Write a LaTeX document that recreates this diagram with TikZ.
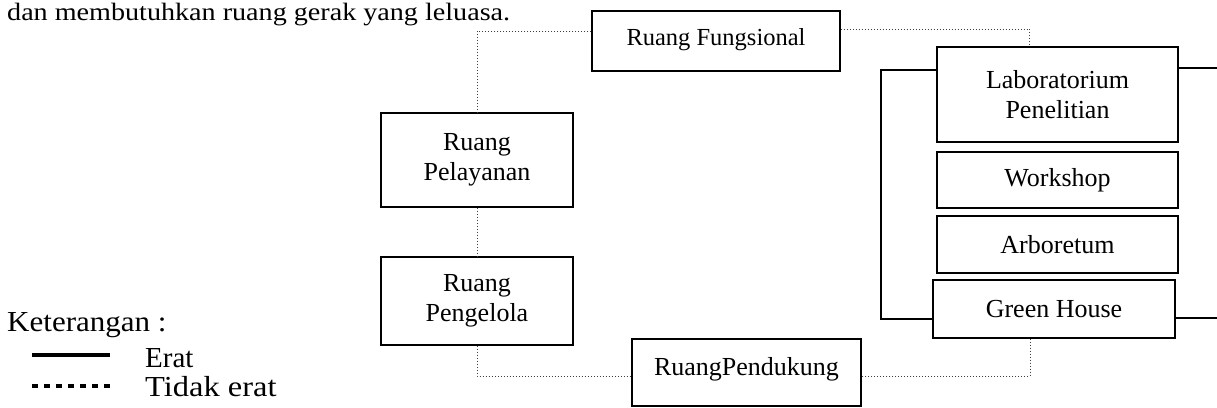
\documentclass[tikz,border=0pt]{standalone}
\usepackage{fontspec}
\setmainfont{Liberation Serif}
\begin{document}
\begin{tikzpicture}[x=1pt,y=-1pt,
  box/.style={draw, line width=1.2pt, minimum width=241pt, align=center, inner sep=0pt, font=\fontsize{26}{30}\selectfont},
  loose/.style={draw=black!75, line width=1pt, dash pattern=on 1pt off 2pt},
  tight/.style={draw, line width=1.2pt},
  legtext/.style={anchor=base west, inner sep=0pt, font=\fontsize{29}{31}\selectfont}]
\useasboundingbox (0,0) rectangle (1217,407);
\node[anchor=base west, inner sep=0pt, font=\fontsize{25}{30}\selectfont] (intro) at (7,20) {\scalebox{1.125}[1]{dan membutuhkan ruang gerak yang leluasa.}};
\node[box, minimum width=248pt, minimum height=60pt, font=\fontsize{24.5}{29}\selectfont] (RF) at (716,41) {\raisebox{8pt}{Ruang Fungsional}};
\node[box, minimum height=95pt] (Lab) at (1057.5,94.5) {Laboratorium\\Penelitian};
\node[box, minimum height=56pt] (WS) at (1057.5,180) {Workshop};
\node[box, minimum height=57pt] (AR) at (1057.5,244.5) {Arboretum};
\node[box, minimum width=242pt, minimum height=58pt] (GH) at (1054,309) {Green House};
\node[box, minimum width=192pt, minimum height=94pt] (Pel) at (477,160) {Ruang\\Pelayanan};
\node[box, minimum width=192pt, minimum height=88pt] (Pen) at (477,301) {Ruang\\Pengelola};
\node[box, minimum width=229pt, minimum height=67pt] (RP) at (746.5,372.5) {\raisebox{12pt}{RuangPendukung}};
% loose connections
\draw[loose] ([yshift=10pt]RF.west) -| (Pel.north);
\draw[loose] ([yshift=12pt]RF.east) -| ([xshift=-28pt]Lab.north);
\draw[loose] (Pel.south) -- (Pen.north);
\draw[loose] (Pen.south) |- ([yshift=-3.5pt]RP.west);
\draw[loose] ([xshift=-24pt]GH.south) |- ([yshift=-3.5pt]RP.east);
% tight connections
\coordinate (jl) at (881,200);
\coordinate (labR) at (1217,68);
\coordinate (ghR) at (1217,318);
\draw[tight] ([yshift=24.5pt]Lab.west) -| (jl) |- ([yshift=-10pt]GH.west);
\draw[tight] (Lab.east |- labR) -- (labR);
\draw[tight] (GH.east |- ghR) -- (ghR);
% legend
\node[legtext] (ket) at (7,331) {\scalebox{1.07}[1]{Keterangan :}};
\coordinate (e1) at (32,355);
\coordinate (e2) at (110,355);
\draw[line width=3.5pt] (e1) -- (e2);
\node[legtext] (erat) at (145,367) {Erat};
\coordinate (t1) at (32,386);
\coordinate (t2) at (110,386);
\draw[line width=3.5pt, dash pattern=on 5.5pt off 6.5pt] (t1) -- (t2);
\node[legtext] (tidak) at (145,396) {\scalebox{1.12}[1]{Tidak erat}};
\end{tikzpicture}
\end{document}
